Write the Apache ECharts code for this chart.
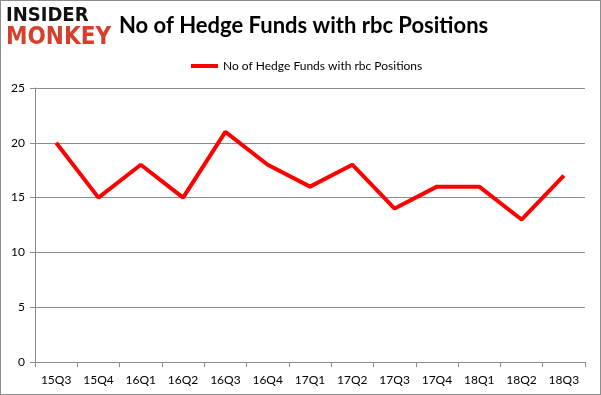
<!DOCTYPE html>
<html><head><meta charset="utf-8">
<script src="https://cdn.jsdelivr.net/npm/echarts@6/dist/echarts.min.js"></script>
<style>html,body{margin:0;padding:0;background:#fff}#c{width:601px;height:395px;box-sizing:border-box;border:1px solid #8c8c8c}</style>
</head><body><div id="c"></div>
<script>
const categories = ['15Q3','15Q4','16Q1','16Q2','16Q3','16Q4','17Q1','17Q2','17Q3','17Q4','18Q1','18Q2','18Q3'];
const values = [20,15,18,15,21,18,16,18,14,16,16,13,17];
const seriesName = 'No of Hedge Funds with rbc Positions';
const titleText = 'No of Hedge Funds with rbc Positions';
const chart = echarts.init(document.getElementById('c'));
chart.setOption({
  animation:false,
  title:{text:titleText,left:113,top:9,textStyle:{fontFamily:'Lato',fontWeight:'bold',fontSize:22,color:'#000'}},
  legend:{data:[seriesName],top:54,left:185,itemWidth:27,itemHeight:4,icon:'rect',itemGap:5,
    textStyle:{fontFamily:'Lato',fontSize:12,color:'#000'}},
  graphic:[
    {type:'text',left:5,top:5,style:{text:'INSIDER',font:'bold 20px "DejaVu Sans Condensed"',fill:'#111'}},
    {type:'text',left:5,top:25,style:{text:'MONKEY',font:'bold 24px "DejaVu Sans Condensed"',fill:'#d6402b'}}
  ],
  grid:{left:34,right:15,top:87,bottom:32},
  xAxis:{type:'category',data:categories,boundaryGap:true,
    axisLine:{lineStyle:{color:'#8c8c8c'}},axisTick:{show:true,lineStyle:{color:'#8c8c8c'},length:5},
    axisLabel:{fontFamily:'Lato',fontSize:12,color:'#000',margin:12}},
  yAxis:{type:'value',min:0,max:25,interval:5,
    axisLine:{show:true,lineStyle:{color:'#8c8c8c'}},axisTick:{show:true,lineStyle:{color:'#8c8c8c'},length:5},
    splitLine:{lineStyle:{color:'#8c8c8c'}},
    axisLabel:{fontFamily:'Lato',fontSize:12,color:'#000',margin:10}},
  series:[{name:seriesName,type:'line',data:values,symbol:'none',lineStyle:{color:'#ff0000',width:4},itemStyle:{color:'#ff0000'}}]
});
</script></body></html>
